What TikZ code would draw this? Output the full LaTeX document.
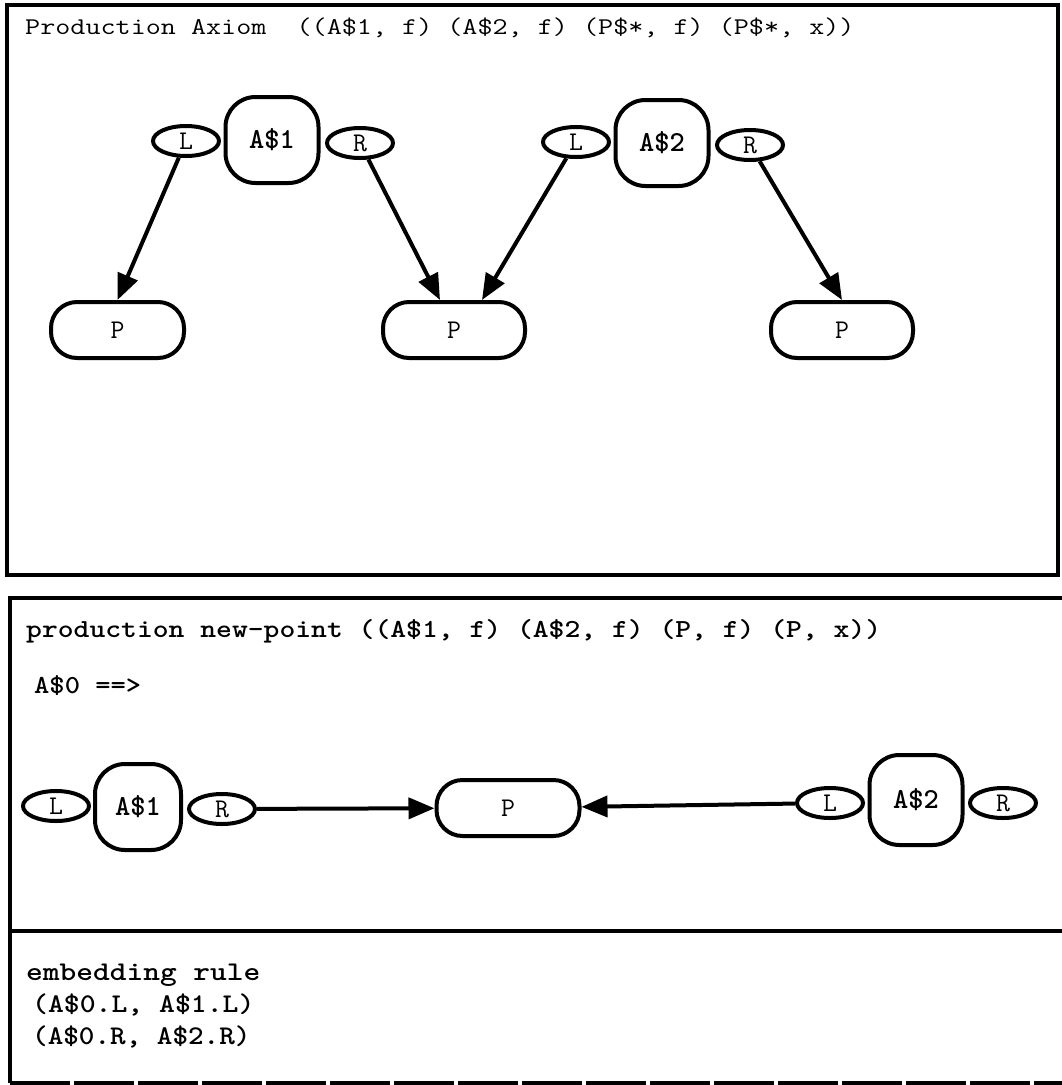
\documentclass[tikz,border=0pt]{standalone}
\usepackage{fontspec}
\usepackage{graphicx}
\usetikzlibrary{arrows.meta,shapes.geometric}
\tikzset{
  frameline/.style={line width=3.5pt},
  abox/.style={draw, line width=4pt, rounded corners=30pt, minimum width=93pt, minimum height=86pt, inner sep=0pt,
    font=\ttfamily\bfseries\fontsize{29}{30}\selectfont},
  port/.style={draw, ellipse, line width=4pt, minimum width=66pt, minimum height=30pt, inner sep=0pt,
    font=\ttfamily\fontsize{27}{27}\selectfont},
  pbox/.style={draw, line width=4pt, rounded corners=26pt, minimum width=140pt, minimum height=56pt, inner sep=0pt,
    font=\ttfamily\fontsize{27}{27}\selectfont},
  link/.style={line width=4pt, -{Triangle[length=26pt,width=21pt]}},
  titletext/.style={anchor=base west, inner sep=0pt},
}
\begin{document}
\begin{tikzpicture}[x=1pt,y=-1pt]
\useasboundingbox (0,0) rectangle (1062,1085);

% frames
\draw[frameline] (7,5) rectangle (1058,575);
\draw[frameline] (1075,598) -- (10,598) -- (10,1083);
\draw[frameline] (10,931) -- (1075,931);
\draw[frameline, dash pattern=on 60pt off 4pt] (10,1083) -- (1075,1083);

% top section
\node[titletext] (t1) at (25,34) {\ttfamily\fontsize{24}{26}\selectfont\scalebox{1.22}[1]{Production Axiom\ \ ((A\$1, f) (A\$2, f) (P\$*, f) (P\$*, x))}};

\node[port] (L1) at (186,141) {L};
\node[abox] (A1) at (272,140) {A\$1};
\node[port] (R1) at (360,143) {R};
\node[port] (L2) at (576,142) {L};
\node[abox] (A2) at (662,143) {A\$2};
\node[port] (R2) at (750,145) {R};

\node[pbox, minimum width=133pt] (P1) at (117.5,330) {P};
\node[pbox, minimum width=142pt] (P2) at (454,330) {P};
\node[pbox, minimum width=142pt] (P3) at (842,330) {P};

\draw[link] (L1) -- (P1.north);
\draw[link] (R1) -- ([xshift=-14pt]P2.north);
\draw[link] (L2) -- ([xshift=28pt]P2.north);
\draw[link] (R2) -- (P3.north);

% middle section
\node[titletext] (t2) at (26,637) {\ttfamily\bfseries\fontsize{26}{28}\selectfont\scalebox{1.16}[1]{production new-point ((A\$1, f) (A\$2, f) (P, f) (P, x))}};
\node[titletext] (t3) at (34,693) {\ttfamily\bfseries\fontsize{26}{28}\selectfont\scalebox{1.12}[1]{A\$0 ==>}};

\node[port] (L3) at (56,806) {L};
\node[abox, minimum width=86pt] (A3) at (138,807) {A\$1};
\node[port] (R3) at (222,809) {R};
\node[pbox, minimum width=143pt] (P4) at (508,808) {P};
\node[port] (L4) at (830,803) {L};
\node[abox, minimum height=90pt] (A4) at (916,800) {A\$2};
\node[port] (R4) at (1003,803) {R};

\draw[link] (R3) -- (P4);
\draw[link] (L4) -- (P4);

% bottom section
\node[titletext] (e1) at (26,980) {\ttfamily\bfseries\fontsize{27}{30}\selectfont\scalebox{1.18}[1]{embedding rule}};
\node[titletext] (e2) at (32,1012) {\ttfamily\bfseries\fontsize{27}{30}\selectfont\scalebox{1.12}[1]{(A\$0.L, A\$1.L)}};
\node[titletext] (e3) at (32,1044) {\ttfamily\bfseries\fontsize{27}{30}\selectfont\scalebox{1.1}[1]{(A\$0.R, A\$2.R)}};
\end{tikzpicture}
\end{document}
